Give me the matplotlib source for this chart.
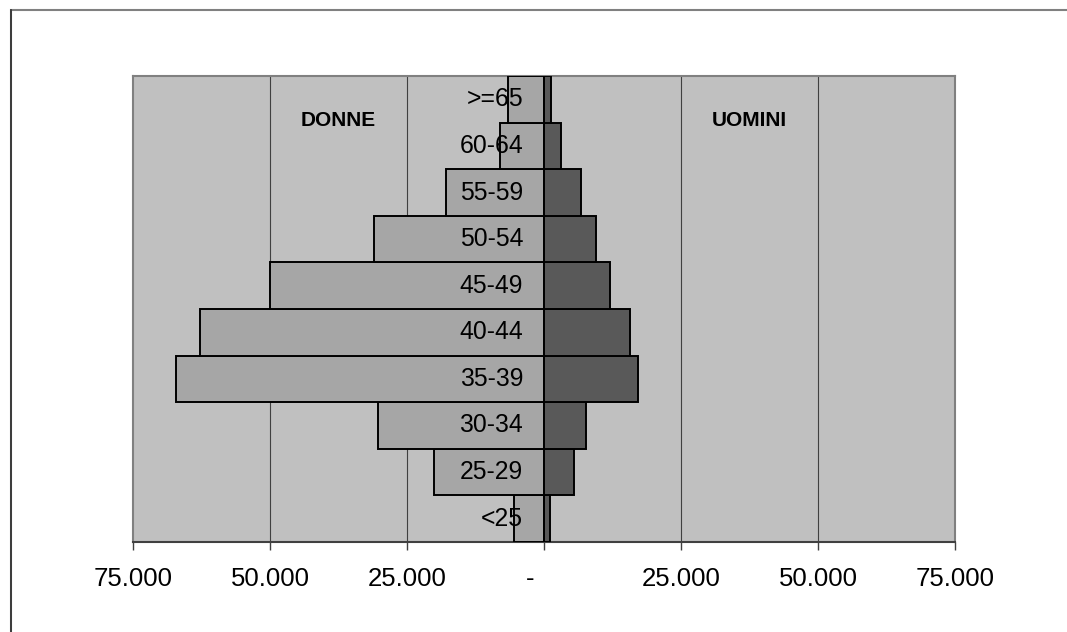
import matplotlib.pyplot as plt
from matplotlib.patches import Rectangle
import numpy as np

plt.rcParams['font.family'] = ['Liberation Sans', 'DejaVu Sans']

# classi di eta' e popolazione per sesso
classi = ['<25', '25-29', '30-34', '35-39', '40-44', '45-49',
          '50-54', '55-59', '60-64', '>=65']
donne = [5500, 20100, 30300, 67200, 62800, 50000, 31000, 17900, 8100, 6600]
uomini = [1150, 5500, 7700, 17200, 15700, 12000, 9500, 6700, 3050, 1200]

xticks = [-75000, -50000, -25000, 0, 25000, 50000, 75000]
xticklabels = ['75.000', '50.000', '25.000', '-    ', '25.000', '50.000', '75.000']

fig = plt.figure(figsize=(10.67, 6.32), dpi=100)
# bordo dell'area grafico
fig.patches.append(Rectangle((11 / 1067, -0.1), 1.2, 1 - 10 / 632 + 0.1,
                             transform=fig.transFigure, fill=False,
                             edgecolor='#808080', lw=1.5))
fig.lines.append(plt.Line2D([11 / 1067, 11 / 1067], [0, 1 - 10 / 632],
                            transform=fig.transFigure, color='#303030', lw=1.2))

ax = fig.add_axes([133 / 1067, 1 - 542 / 632, 822 / 1067, 466 / 632])
ax.set_facecolor('#c0c0c0')

y = np.arange(len(classi))
ax.barh(y, -np.array(donne), height=1.0, color='#a6a6a6',
        edgecolor='black', lw=1.4, zorder=3)
ax.barh(y, uomini, height=1.0, color='#595959',
        edgecolor='black', lw=1.4, zorder=3)

ax.set_xlim(-75000, 75000)
ax.set_ylim(-0.5, len(classi) - 0.5)

for g in [-50000, -25000, 25000, 50000]:
    ax.axvline(g, color='#404040', lw=0.8, zorder=1)
ax.axvline(0, color='black', lw=1.4, zorder=4)

for i, c in enumerate(classi):
    ax.annotate(c, xy=(0, i), xytext=(-15, 0), textcoords='offset points',
                ha='right', va='center', fontsize=17.8, zorder=5)

ax.text(0.25, 0.905, 'DONNE', transform=ax.transAxes, ha='center',
        va='center', fontsize=15, fontweight='bold')
ax.text(0.75, 0.905, 'UOMINI', transform=ax.transAxes, ha='center',
        va='center', fontsize=15, fontweight='bold')

ax.set_xticks(xticks)
ax.set_xticklabels(xticklabels, fontsize=18.5)
ax.set_yticks([])
ax.tick_params(axis='x', direction='out', length=6, width=1,
               color='#404040', pad=12)

for s in ['top', 'left', 'right']:
    ax.spines[s].set_color('#808080')
    ax.spines[s].set_linewidth(1.5)
ax.spines['bottom'].set_color('#404040')
ax.spines['bottom'].set_linewidth(1.5)

fig.savefig('out.png', dpi=100)
